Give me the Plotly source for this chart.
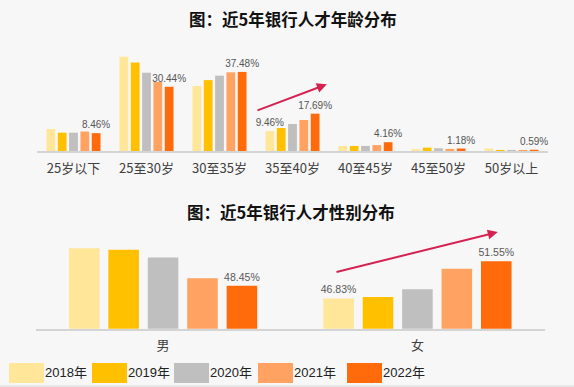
import plotly.graph_objects as go

# ---------------- data ----------------
years = ["2018年", "2019年", "2020年", "2021年", "2022年"]
colors = ["#FFE699", "#FFC000", "#BFBFBF", "#FFA262", "#FF6A0A"]

age_groups = ["25岁以下", "25至30岁", "30至35岁", "35至40岁", "40至45岁", "45至50岁", "50岁以上"]
age_2018 = [10.4, 44.7, 30.8, 9.46, 2.4, 0.9, 1.2]
age_2019 = [8.7, 41.9, 33.6, 10.9, 2.4, 1.6, 0.4]
age_2020 = [8.7, 37.1, 35.7, 12.8, 2.4, 1.3, 0.4]
age_2021 = [9.2, 32.7, 37.3, 14.7, 2.8, 1.0, 0.4]
age_2022 = [8.46, 30.44, 37.48, 17.69, 4.16, 1.18, 0.59]
age_labels_2018 = ["", "", "", "9.46%", "", "", ""]
age_labels_2022 = ["8.46%", "30.44%", "37.48%", "17.69%", "4.16%", "1.18%", "0.59%"]

genders = ["男", "女"]
gender_2018 = [53.17, 46.83]
gender_2019 = [53.0, 47.0]
gender_2020 = [52.0, 48.0]
gender_2021 = [49.4, 50.6]
gender_2022 = [48.45, 51.55]
gender_labels_2018 = ["", "46.83%"]
gender_labels_2022 = ["48.45%", "51.55%"]

title_age = "图：近5年银行人才年龄分布"
title_gender = "图：近5年银行人才性别分布"

# ---------------- figure ----------------
W, H = 574, 387
BG = "#F7F7F7"
LABEL_FONT = dict(family="Liberation Sans, Arial", size=10, color="#555555")
LABEL_FONT2 = dict(family="Liberation Sans, Arial", size=10.5, color="#595959")
TICK_FONT = dict(family="Noto Sans CJK SC", size=13, color="#404040")

fig = go.Figure()

age_series = [age_2018, age_2019, age_2020, age_2021, age_2022]
gender_series = [gender_2018, gender_2019, gender_2020, gender_2021, gender_2022]

for i, (name, col) in enumerate(zip(years, colors)):
    if i == 0:
        at, gt = age_labels_2018, gender_labels_2018
    elif i == 4:
        at, gt = age_labels_2022, gender_labels_2022
    else:
        at, gt = None, None
    fig.add_trace(go.Bar(
        x=age_groups, y=age_series[i], name=name, marker=dict(color=col, line=dict(width=0)),
        text=at, textposition="outside", textfont=LABEL_FONT, constraintext="none",
        cliponaxis=False, xaxis="x", yaxis="y", showlegend=False, hoverinfo="skip",
    ))
    fig.add_trace(go.Bar(
        x=genders, y=gender_series[i], name=name, marker=dict(color=col, line=dict(width=0)),
        text=gt, textposition="outside", textfont=LABEL_FONT2, constraintext="none",
        cliponaxis=False, xaxis="x2", yaxis="y2", showlegend=False, hoverinfo="skip",
    ))

def py(p):  # pixel y -> paper
    return 1 - p / H

def px(p):
    return p / W

axis_common = dict(showline=True, linecolor="#D4D4D4", linewidth=2, ticks="",
                   showgrid=False, zeroline=False, tickfont=TICK_FONT, fixedrange=True,
                   ticklabelstandoff=4)

TOP_BASE, TOP_K = 151, 2.11
BOT_BASE, BOT_K = 328.7, 7.9

fig.update_layout(
    width=W, height=H,
    margin=dict(l=0, r=0, t=0, b=0),
    paper_bgcolor=BG, plot_bgcolor=BG,
    barmode="group", bargap=0.225, bargroupgap=0.225,
    showlegend=False,
    xaxis=dict(domain=[px(37), px(548)], anchor="y", **axis_common),
    yaxis=dict(domain=[py(TOP_BASE), py(TOP_BASE - 46 * TOP_K)], range=[0, 46], visible=False, anchor="x"),
    xaxis2=dict(domain=[px(35.9), px(544.6)], anchor="y2", **axis_common),
    yaxis2=dict(domain=[py(BOT_BASE), py(BOT_BASE - 10.5 * BOT_K)], range=[43, 53.5], visible=False, anchor="x2"),
)

annotations = []
TITLE_FONT = dict(family="Noto Sans CJK SC", size=16.5, color="#111111")
annotations.append(dict(text="<b>" + title_age + "</b>", x=px(293), y=py(19), xref="paper", yref="paper",
                        showarrow=False, font=TITLE_FONT, xanchor="center", yanchor="middle"))
annotations.append(dict(text="<b>" + title_gender + "</b>", x=px(291), y=py(212), xref="paper", yref="paper",
                        showarrow=False, font=TITLE_FONT, xanchor="center", yanchor="middle"))

ARROW_COL = "#D62250"
annotations.append(dict(x=3.47, y=31.6, ax=2.5, ay=19.0, xref="x", yref="y", axref="x", ayref="y",
                        text="", showarrow=True, arrowhead=2, arrowsize=1, arrowwidth=2, arrowcolor=ARROW_COL))
annotations.append(dict(x=1.316, y=55.23, ax=0.676, ay=50.13, xref="x2", yref="y2", axref="x2", ayref="y2",
                        text="", showarrow=True, arrowhead=2, arrowsize=1, arrowwidth=2, arrowcolor=ARROW_COL))

# custom legend with large swatches
shapes = []
leg_x = [9, 92, 174, 258, 347]
for x0, name, col in zip(leg_x, years, colors):
    shapes.append(dict(type="rect", xref="paper", yref="paper", x0=px(x0), x1=px(x0 + 35),
                       y0=py(383), y1=py(363), fillcolor=col, line=dict(width=0)))
    annotations.append(dict(text=name, x=px(x0 + 35), y=py(372), xref="paper", yref="paper",
                            showarrow=False, xanchor="left", yanchor="middle", xshift=-1,
                            font=dict(family="Liberation Sans, Noto Sans CJK SC", size=13, color="#222222")))
shapes.append(dict(type="line", xref="paper", yref="paper", x0=0, x1=1, y0=py(386), y1=py(386),
                   line=dict(color="#E2E2E2", width=1.5)))

fig.update_layout(annotations=annotations, shapes=shapes)

fig.write_html("out.html", config={"displayModeBar": False},
               post_script="document.body.style.margin='0';document.body.style.background='%s';" % BG)
